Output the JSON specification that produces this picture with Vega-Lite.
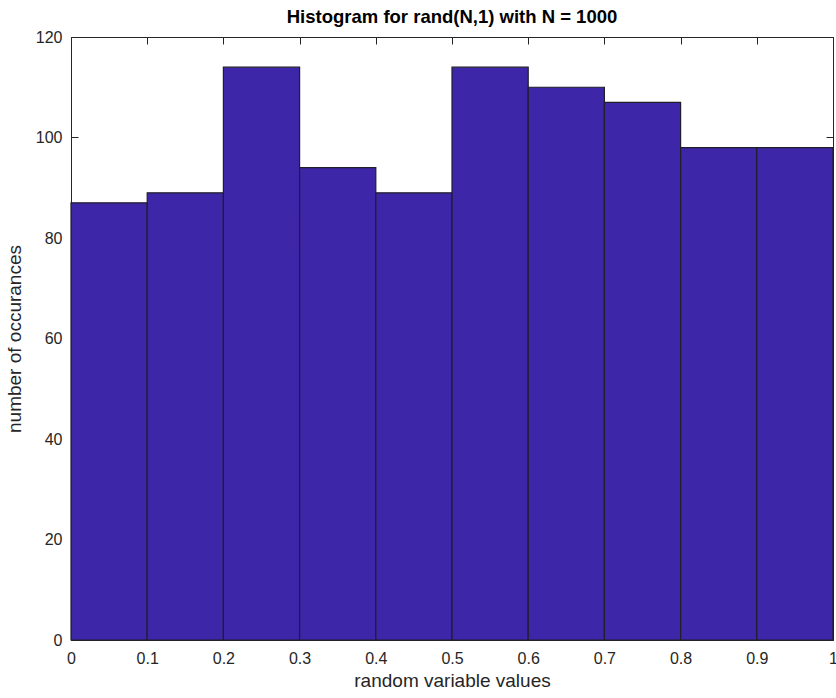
{
  "$schema": "https://vega.github.io/schema/vega-lite/v6.json",
  "autosize": {"type": "none"},
  "padding": {"left": 71, "top": 37, "right": 3, "bottom": 58},
  "width": 762,
  "height": 603,
  "background": "white",
  "config": {
    "view": {"stroke": null},
    "font": "Liberation Sans",
    "axis": {
      "labelFont": "Liberation Sans",
      "titleFont": "Liberation Sans",
      "labelFontSize": 16,
      "titleFontSize": 19,
      "titleFontWeight": "normal",
      "labelColor": "#262626",
      "titleColor": "#262626",
      "domainColor": "#262626",
      "tickColor": "#262626",
      "domainWidth": 1,
      "tickWidth": 1,
      "grid": false
    }
  },
  "title": {
    "text": "Histogram for rand(N,1) with N = 1000",
    "font": "Liberation Sans",
    "fontSize": 18.5,
    "fontWeight": "bold",
    "color": "#000000",
    "anchor": "middle",
    "offset": 3
  },
  "data": {
    "values": [
      {"lo": 0.0, "hi": 0.1, "count": 87},
      {"lo": 0.1, "hi": 0.2, "count": 89},
      {"lo": 0.2, "hi": 0.3, "count": 114},
      {"lo": 0.3, "hi": 0.4, "count": 94},
      {"lo": 0.4, "hi": 0.5, "count": 89},
      {"lo": 0.5, "hi": 0.6, "count": 114},
      {"lo": 0.6, "hi": 0.7, "count": 110},
      {"lo": 0.7, "hi": 0.8, "count": 107},
      {"lo": 0.8, "hi": 0.9, "count": 98},
      {"lo": 0.9, "hi": 1.0, "count": 98}
    ]
  },
  "layer": [
    {
      "mark": {"type": "bar", "fill": "#3e26a8", "stroke": "#1f1f2a", "strokeWidth": 1.2},
      "encoding": {
        "x": {
          "field": "lo", "type": "quantitative",
          "scale": {"domain": [0, 1], "nice": false, "zero": false},
          "axis": {
            "orient": "bottom",
            "values": [0, 0.1, 0.2, 0.3, 0.4, 0.5, 0.6, 0.7, 0.8, 0.9, 1],
            "format": "~g",
            "ticks": false,
            "labelPadding": 10,
            "labelFlush": false,
            "title": "random variable values",
            "titlePadding": 5
          }
        },
        "x2": {"field": "hi"},
        "y": {
          "field": "count", "type": "quantitative",
          "scale": {"domain": [0, 120], "nice": false},
          "axis": {
            "orient": "left",
            "values": [0, 20, 40, 60, 80, 100, 120],
            "tickSize": -7,
            "labelPadding": 16,
            "labelFlush": false,
            "title": "number of occurances",
            "titlePadding": 11
          }
        },
        "y2": {"datum": 0}
      }
    },
    {
      "mark": {"type": "bar", "opacity": 0},
      "encoding": {
        "x": {
          "field": "lo", "type": "quantitative",
          "axis": {
            "orient": "top",
            "values": [0, 0.1, 0.2, 0.3, 0.4, 0.5, 0.6, 0.7, 0.8, 0.9, 1],
            "labels": false,
            "tickSize": -7,
            "title": null
          }
        },
        "x2": {"field": "hi"},
        "y": {
          "field": "count", "type": "quantitative",
          "axis": {
            "orient": "right",
            "values": [0, 20, 40, 60, 80, 100, 120],
            "labels": false,
            "tickSize": -7,
            "title": null
          }
        },
        "y2": {"datum": 0}
      }
    }
  ],
  "resolve": {"axis": {"x": "independent", "y": "independent"}}
}
